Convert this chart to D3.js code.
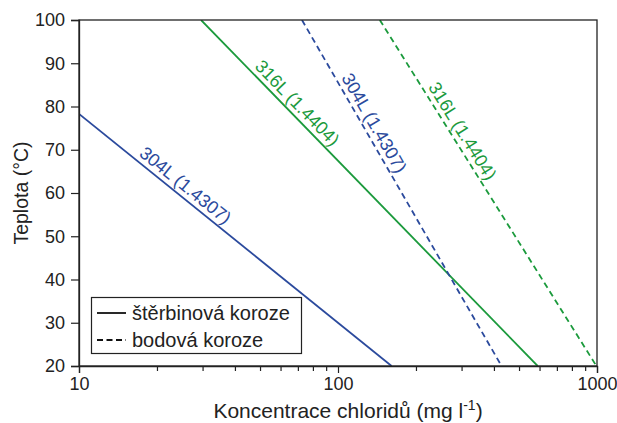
<!DOCTYPE html>
<html><head><meta charset="utf-8">
<script src="https://cdn.jsdelivr.net/npm/d3@7"></script>
<style>body{margin:0;background:#fff}svg{display:block;font-family:"Liberation Sans",Arial,sans-serif}</style>
</head><body><svg id="c" width="617" height="423"></svg>
<script>
// Data
const seriesNames = ["304L (1.4307)", "316L (1.4404)", "304L (1.4307)", "316L (1.4404)"];
const seriesType = ["solid", "solid", "dashed", "dashed"];
const seriesColor = ["#2b4a9d", "#1b9a3c", "#2b4a9d", "#1b9a3c"];
const seriesX = [[10, 161], [29.6, 590], [72.6, 428], [145, 995]];
const seriesY = [[78.3, 20], [100, 20], [100, 20], [100, 20]];
const labelAtX = [24.2, 64.9, 126.7, 278];
const yTicks = [20, 30, 40, 50, 60, 70, 80, 90, 100];
const xMajor = [10, 100, 1000];
const xMinor = [20, 30, 40, 50, 60, 70, 80, 90, 200, 300, 400, 500, 600, 700, 800, 900];
const legendLabels = ["štěrbinová koroze", "bodová koroze"];

const W = 617, H = 423, m = {l: 79, r: 20, t: 20, b: 57};
const svg = d3.select("#c");
const x = d3.scaleLog().domain([10, 1000]).range([m.l, W - m.r]);
const y = d3.scaleLinear().domain([20, 100]).range([H - m.b, m.t]);

const g = svg.append("g");
svg.append("clipPath").attr("id", "cp").append("rect")
  .attr("x", m.l).attr("y", m.t).attr("width", W - m.l - m.r).attr("height", H - m.t - m.b);
seriesNames.forEach((n, i) => {
  const pts = seriesX[i].map((v, k) => [x(v), y(seriesY[i][k])]);
  g.append("path").attr("d", d3.line()(pts)).attr("fill", "none")
    .attr("stroke", seriesColor[i]).attr("stroke-width", 1.8)
    .attr("stroke-dasharray", seriesType[i] === "dashed" ? "6,4" : null)
    .attr("clip-path", "url(#cp)");
  const [p0, p1] = pts;
  const ang = Math.atan2(p1[1] - p0[1], p1[0] - p0[0]);
  const fx = x(labelAtX[i]);
  const fy = p0[1] + (fx - p0[0]) * (p1[1] - p0[1]) / (p1[0] - p0[0]);
  g.append("text").attr("transform", `translate(${fx},${fy}) rotate(${ang * 180 / Math.PI})`)
    .attr("text-anchor", "middle").attr("dy", -5).attr("font-size", 18)
    .attr("fill", seriesColor[i]).text(n);
});

// frame
svg.append("rect").attr("x", m.l).attr("y", m.t).attr("width", W - m.l - m.r).attr("height", H - m.t - m.b)
  .attr("fill", "none").attr("stroke", "#222").attr("stroke-width", 1.3);

// axes
const ya = svg.append("g").attr("transform", `translate(${m.l},0)`)
  .call(d3.axisLeft(y).tickValues(yTicks).tickSize(8).tickPadding(6));
const xa = svg.append("g").attr("transform", `translate(0,${H - m.b})`)
  .call(d3.axisBottom(x).tickValues(xMajor).tickFormat(d3.format("d")).tickSize(7).tickPadding(4));
const xm = svg.append("g").attr("transform", `translate(0,${H - m.b})`)
  .call(d3.axisBottom(x).tickValues(xMinor).tickFormat("").tickSize(5));
[ya, xa, xm].forEach(a => {
  a.select(".domain").attr("stroke", "#222").attr("stroke-width", 1.3);
  a.selectAll(".tick line").attr("stroke", "#222").attr("stroke-width", 1.2);
  a.selectAll("text").attr("font-size", 18).attr("fill", "#222")
    .attr("font-family", '"Liberation Sans",Arial,sans-serif');
});
xm.select(".domain").remove();

// axis titles
svg.append("text").attr("x", 348).attr("y", 418).attr("text-anchor", "middle")
  .attr("font-size", 21).attr("fill", "#222")
  .html('Koncentrace chloridů (mg l<tspan dy="-8" font-size="14">-1</tspan><tspan dy="8">)</tspan>');
svg.append("text").attr("transform", `translate(27.5,${(m.t + H - m.b) / 2}) rotate(-90)`)
  .attr("text-anchor", "middle").attr("font-size", 19.5).attr("fill", "#222").text("Teplota (°C)");

// legend
const lg = svg.append("g");
lg.append("rect").attr("x", 91.5).attr("y", 297.5).attr("width", 210).attr("height", 56)
  .attr("fill", "#fff").attr("stroke", "#222").attr("stroke-width", 1.2);
legendLabels.forEach((t, i) => {
  const yy = 313 + i * 27;
  lg.append("line").attr("x1", 97).attr("x2", 126).attr("y1", yy).attr("y2", yy)
    .attr("stroke", "#111").attr("stroke-width", 1.8)
    .attr("stroke-dasharray", i === 1 ? "6,3.5" : null);
  lg.append("text").attr("x", 132).attr("y", yy + 7).attr("font-size", 20).attr("fill", "#222").text(t);
});
</script></body></html>
